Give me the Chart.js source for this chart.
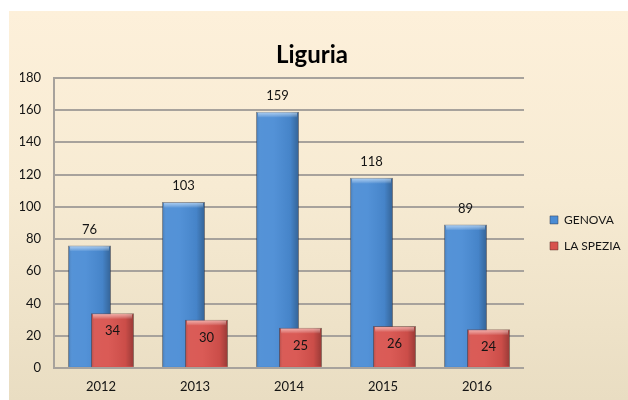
<!DOCTYPE html>
<html>
<head>
<meta charset="utf-8">
<title>Liguria</title>
<script src="https://cdn.jsdelivr.net/npm/chart.js@4.4.1/dist/chart.umd.min.js"></script>
<style>
  html, body { margin: 0; padding: 0; background: #ffffff; }
  #frame {
    position: absolute; left: 9px; top: 11px; width: 619px; height: 389px;
    background: linear-gradient(180deg, #fdf0da 0%, #f7ebd3 45%, #e9ddc2 100%);
  }
  canvas { display: block; }
</style>
</head>
<body>
<div id="frame"><canvas id="chart"></canvas></div>
<script>
// Categories and series
const years = ['2012', '2013', '2014', '2015', '2016'];
const genova = [76, 103, 159, 118, 89];
const laSpezia = [34, 30, 25, 26, 24];
const seriesNames = ['GENOVA', 'LA SPEZIA'];

// Value axis
const yMin = 0;
const yMax = 180;
const yStep = 20;

const textColor = '#141414';
const gridColor = '#a7a29c';
const baseFont = { family: 'Lato', size: 13 };
const legendFont = { family: 'Lato', size: 12 };

// Glossy shading laid over each drawn bar
const tones = [
  { bevel: 'rgba(200,228,255,0.75)' },
  { bevel: 'rgba(255,205,198,0.75)' }
];

function shadeBars(chart, index) {
  const ctx = chart.ctx;
  const meta = chart.getDatasetMeta(index);
  ctx.save();
  meta.data.forEach(bar => {
    const { x, y, base, width } = bar.getProps(['x', 'y', 'base', 'width'], true);
    const left = x - width / 2;
    const h = base - y;
    const g = ctx.createLinearGradient(left, 0, left + width, 0);
    g.addColorStop(0, 'rgba(0,0,0,0.20)');
    g.addColorStop(0.10, 'rgba(255,255,255,0.06)');
    g.addColorStop(0.40, 'rgba(255,255,255,0.05)');
    g.addColorStop(0.80, 'rgba(0,0,0,0.06)');
    g.addColorStop(1, 'rgba(0,0,0,0.30)');
    ctx.fillStyle = g;
    ctx.fillRect(left + 0.5, y + 0.5, width - 1, h - 1);
    const bev = Math.min(6, h);
    const t = ctx.createLinearGradient(0, y, 0, y + bev);
    t.addColorStop(0, tones[index].bevel);
    t.addColorStop(1, 'rgba(255,255,255,0)');
    ctx.fillStyle = t;
    ctx.fillRect(left + 2, y + 1, width - 4, bev);
  });
  ctx.restore();
}

function drawValues(chart) {
  const ctx = chart.ctx;
  ctx.save();
  ctx.font = `${baseFont.size}px ${baseFont.family}`;
  ctx.fillStyle = textColor;
  ctx.textAlign = 'center';
  ctx.textBaseline = 'middle';
  chart.data.datasets.forEach((ds, i) => {
    const meta = chart.getDatasetMeta(i);
    meta.data.forEach((bar, j) => {
      const { x, y } = bar.getProps(['x', 'y'], true);
      // first series: above the bar end; second: inside the bar end
      const ty = i === 0 ? y - 16 : y + 18;
      ctx.fillText(String(ds.data[j]), x, ty);
    });
  });
  ctx.restore();
}

const barLook = {
  id: 'barLook',
  afterLayout(chart) {
    // nudge the legend block to the right of the plot and give it room to the edge
    const lg = chart.legend;
    lg.left += 12;
    lg.right = chart.width;
    lg.width = lg.right - lg.left;
    lg.top += 10; lg.bottom += 10;
  },
  beforeDatasetDraw(chart, args) {
    // the second series is painted afterwards so it overlaps the first
    if (args.index === 1) return false;
  },
  afterDatasetDraw(chart, args) {
    shadeBars(chart, args.index);
  },
  afterDatasetsDraw(chart) {
    chart.getDatasetMeta(1).controller.draw();
    shadeBars(chart, 1);
    drawValues(chart);
  }
};

new Chart(document.getElementById('chart'), {
  type: 'bar',
  data: {
    labels: years,
    datasets: [
      {
        label: seriesNames[0],
        data: genova,
        backgroundColor: '#4a8cd5',
        borderColor: 'rgba(55,70,95,0.55)',
        borderWidth: 1,
        categoryPercentage: 0.49,
        barPercentage: 1.87
      },
      {
        label: seriesNames[1],
        data: laSpezia,
        backgroundColor: '#d8524d',
        borderColor: 'rgba(100,55,50,0.55)',
        borderWidth: 1,
        categoryPercentage: 0.49,
        barPercentage: 1.87
      }
    ]
  },
  options: {
    responsive: true,
    maintainAspectRatio: false,
    animation: false,
    layout: { padding: { left: 11, right: 24, top: 0, bottom: 0 } },
    plugins: {
      title: {
        display: true,
        text: 'Liguria',
        color: '#000000',
        font: { family: 'Lato', size: 24, weight: 'bold' },
        padding: { top: 30, bottom: 8 }
      },
      legend: {
        position: 'right',
        fullSize: false,
        maxWidth: 80,
        labels: {
          boxWidth: 8,
          boxHeight: 8,
          padding: 14,
          color: textColor,
          font: legendFont
        }
      },
      tooltip: { enabled: false }
    },
    scales: {
      x: {
        grid: { display: false, drawTicks: false },
        border: { display: false },
        ticks: { color: textColor, font: baseFont, padding: 11 },
        afterFit: s => { s.height = 32; }
      },
      y: {
        min: yMin,
        max: yMax,
        ticks: { stepSize: yStep, color: textColor, font: baseFont, padding: 13 },
        grid: { color: gridColor, lineWidth: 2, drawTicks: false },
        border: { display: true, color: gridColor, width: 2 },
        afterFit: s => { s.width = 34; }
      }
    }
  },
  plugins: [barLook]
});
</script>
</body>
</html>
